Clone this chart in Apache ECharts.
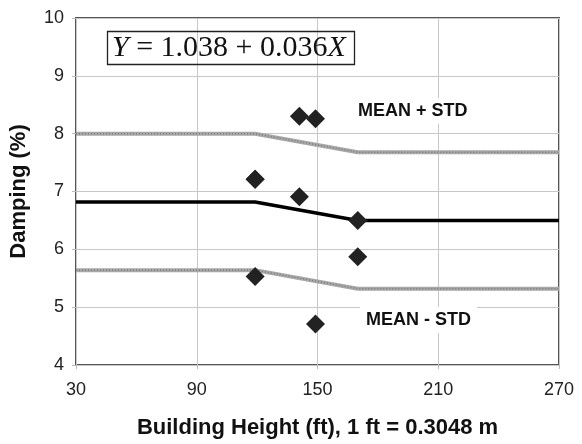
<!DOCTYPE html>
<html><head><meta charset="utf-8">
<script src="https://cdn.jsdelivr.net/npm/echarts@6/dist/echarts.min.js"></script>
<style>html,body{margin:0;padding:0;background:#fff}#c{width:582px;height:444px}</style>
</head><body><div id="c"></div>
<script>
// Trend lines (building height in ft)
const lineX  = [30, 119, 170, 270];
const meanY  = [6.82, 6.82, 6.50, 6.50];
const upperY = [8.00, 8.00, 7.68, 7.68];
const lowerY = [5.64, 5.64, 5.32, 5.32];
// Observed data points
const pointX = [119, 141, 149, 119, 141, 170, 170, 119, 149];
const pointY = [7.21, 8.30, 8.26, 7.21, 6.91, 6.50, 5.87, 5.53, 4.71];
const xTicks = [30, 90, 150, 210, 270];
const yTicks = [4, 5, 6, 7, 8, 9, 10];

const zip = (xs, ys) => xs.map((x, i) => [x, ys[i]]);
const chart = echarts.init(document.getElementById('c'));
const font = 'Liberation Sans, Arial, sans-serif';
chart.setOption({
  animation: false,
  grid: {left: 76, right: 23, top: 18, bottom: 76, show: true, borderColor: '#555', borderWidth: 2},
  xAxis: {
    type: 'value', min: xTicks[0], max: xTicks[xTicks.length-1], interval: 60,
    name: 'Building Height (ft), 1 ft = 0.3048 m', nameLocation: 'middle', nameGap: 52,
    nameTextStyle: {fontFamily: font, fontWeight: 'bold', fontSize: 22, color: '#111'},
    axisLine: {show: false},
    axisTick: {show: true, length: 4, lineStyle: {color: '#bbb'}},
    axisLabel: {fontFamily: font, fontSize: 18, color: '#222', margin: 16},
    splitLine: {show: true, lineStyle: {color: '#c8c8c8', width: 1}}
  },
  yAxis: {
    type: 'value', min: yTicks[0], max: yTicks[yTicks.length-1], interval: 1,
    name: 'Damping (%)', nameLocation: 'middle', nameGap: 46, nameRotate: 90,
    nameTextStyle: {fontFamily: font, fontWeight: 'bold', fontSize: 22, color: '#111'},
    axisLine: {show: false},
    axisTick: {show: true, length: 4, lineStyle: {color: '#bbb'}},
    axisLabel: {fontFamily: font, fontSize: 18, color: '#222', margin: 12},
    splitLine: {show: true, lineStyle: {color: '#c8c8c8', width: 1}}
  },
  title: {
    text: '{i|Y} = 1.038 + 0.036{i|X}',
    left: 107, top: 31,
    padding: [2, 9, 2, 5],
    borderColor: '#222', borderWidth: 1.3,
    textStyle: {
      fontFamily: 'Liberation Serif, Times New Roman, serif', fontSize: 30, fontWeight: 'normal', color: '#111',
      rich: {i: {fontFamily: 'Liberation Serif, Times New Roman, serif', fontStyle: 'italic', fontSize: 30, color: '#111'}}
    }
  },
  graphic: [
    {type: 'text', left: 352, top: 98, z: 10,
      style: {text: 'MEAN + STD', fontFamily: font, fontWeight: 'bold', fontSize: 18, fill: '#111',
        backgroundColor: '#fff', padding: [4, 6, 4, 6]}},
    {type: 'text', left: 360, top: 307, z: 10,
      style: {text: 'MEAN - STD', fontFamily: font, fontWeight: 'bold', fontSize: 18, fill: '#111',
        backgroundColor: '#fff', padding: [4, 6, 4, 6]}}
  ],
  series: [
    {type: 'line', data: zip(lineX, upperY), symbol: 'none', z: 2,
      lineStyle: {color: '#a8a8a8', width: 4}},
    {type: 'line', data: zip(lineX, upperY), symbol: 'none', z: 3,
      lineStyle: {color: '#7a7a7a', width: 1.5, type: [1, 2]}},
    {type: 'line', data: zip(lineX, lowerY), symbol: 'none', z: 2,
      lineStyle: {color: '#a8a8a8', width: 4}},
    {type: 'line', data: zip(lineX, lowerY), symbol: 'none', z: 3,
      lineStyle: {color: '#7a7a7a', width: 1.5, type: [1, 2]}},
    {type: 'line', data: zip(lineX, meanY), symbol: 'none', z: 4,
      lineStyle: {color: '#000', width: 3.5}},
    {type: 'scatter', data: zip(pointX, pointY), symbol: 'diamond', symbolSize: [19, 19], z: 5,
      itemStyle: {color: '#222', opacity: 1}}
  ]
});
</script></body></html>
